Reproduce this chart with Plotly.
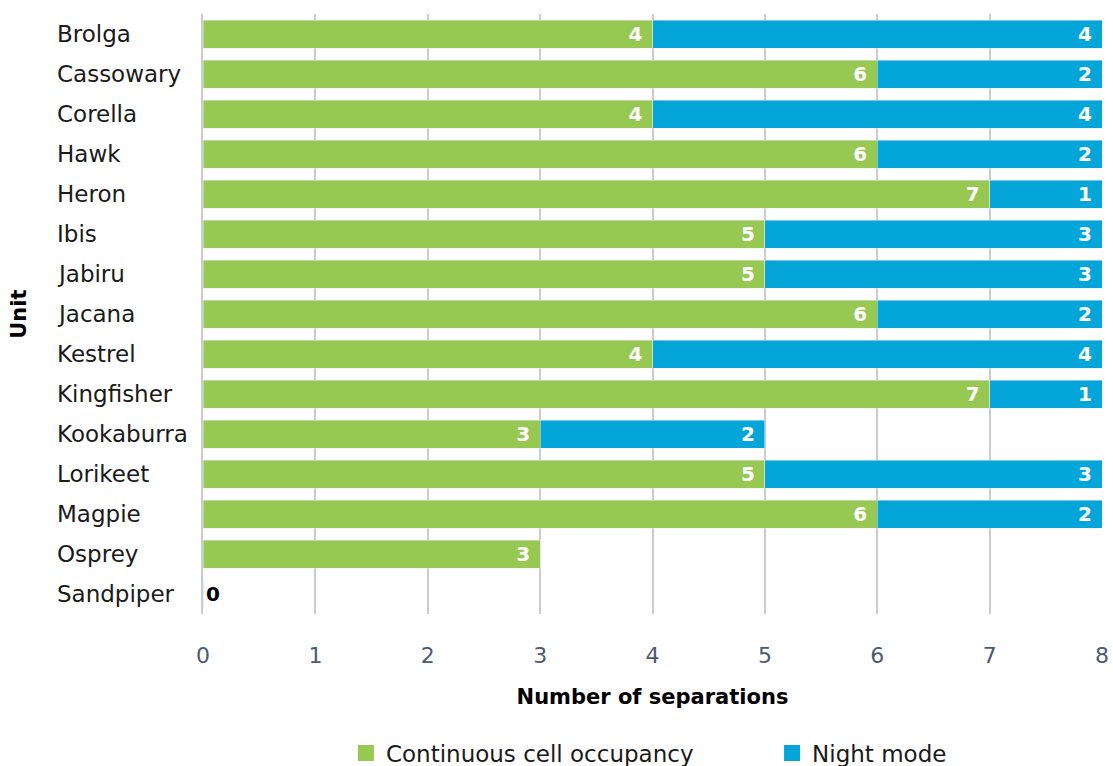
import plotly.graph_objects as go

units = ["Brolga", "Cassowary", "Corella", "Hawk", "Heron", "Ibis", "Jabiru", "Jacana",
         "Kestrel", "Kingfisher", "Kookaburra", "Lorikeet", "Magpie", "Osprey", "Sandpiper"]
continuous = [4, 6, 4, 6, 7, 5, 5, 6, 4, 7, 3, 5, 6, 3, 0]
night = [4, 2, 4, 2, 1, 3, 3, 2, 4, 1, 2, 3, 2, 0, 0]
x_ticks = [0, 1, 2, 3, 4, 5, 6, 7, 8]

GREEN = "#97c952"
BLUE = "#04a5d9"
FONT = "DejaVu Sans"
NB = "\u00a0"

fig = go.Figure()

fig.add_trace(go.Bar(
    y=units, x=continuous, orientation="h", marker_color=GREEN, name="Continuous cell occupancy",
    text=[(str(v) + NB) if v > 0 else str(v) for v in continuous],
    textposition=["inside" if v > 0 else "outside" for v in continuous],
    insidetextanchor="end", constraintext="none",
    insidetextfont=dict(color="white", size=20, family=FONT, weight="bold"),
    outsidetextfont=dict(color="black", size=20, family=FONT, weight="bold"),
    cliponaxis=False, showlegend=False, textangle=0,
))
fig.add_trace(go.Bar(
    y=units, x=night, orientation="h", marker_color=BLUE, name="Night mode",
    text=[(str(v) + NB) if v > 0 else "" for v in night],
    textposition="inside", insidetextanchor="end", constraintext="none",
    insidetextfont=dict(color="white", size=20, family=FONT, weight="bold"),
    showlegend=False, textangle=0,
))

# legend entries with larger square symbols, one legend each for exact placement
for name, col, lg in [("Continuous cell occupancy", GREEN, "legend"), ("Night mode", BLUE, "legend2")]:
    fig.add_trace(go.Scatter(x=[None], y=[None], mode="markers", name=name, legend=lg,
                             marker=dict(symbol="square", size=16, color=col)))

annotations = []
for u in units:
    annotations.append(dict(x=-0.1646, xref="paper", y=u, yref="y", text=u, showarrow=False,
                            xanchor="left", yanchor="middle",
                            font=dict(size=23, color="#1a1a1a", family=FONT)))
annotations.append(dict(x=-0.205, xref="paper", y=0.5, yref="paper", text="<b>Unit</b>",
                        showarrow=False, textangle=-90, xanchor="center", yanchor="middle",
                        font=dict(size=21, color="black", family=FONT)))

legend_common = dict(orientation="h", xanchor="left", xref="paper",
                     y=0.017, yanchor="middle", yref="container",
                     font=dict(size=23, color="#1a1a1a", family=FONT), itemclick=False,
                     bgcolor="rgba(0,0,0,0)")

fig.update_layout(
    width=1113, height=766,
    margin=dict(l=203, r=11, t=14, b=152),
    barmode="stack", bargap=0.3,
    plot_bgcolor="white", paper_bgcolor="white",
    font=dict(family=FONT, size=21, color="black"),
    xaxis=dict(range=[0, 8], tickvals=x_ticks, showgrid=True, gridcolor="#cccccc", gridwidth=2,
               zeroline=False, showline=False, ticks="", ticklabelstandoff=26, automargin=False,
               tickfont=dict(size=22, color="#4a5a75", family=FONT),
               title=dict(text="<b>Number of separations</b>", standoff=22,
                          font=dict(size=21, color="black", family=FONT))),
    yaxis=dict(categoryorder="array", categoryarray=units, autorange="reversed",
               showticklabels=False, showgrid=False, showline=True, linecolor="#cccccc",
               linewidth=2, zeroline=False, automargin=False),
    legend=dict(x=0.159, **legend_common),
    legend2=dict(x=0.633, **legend_common),
    annotations=annotations,
)

fig.write_html("out.html")
